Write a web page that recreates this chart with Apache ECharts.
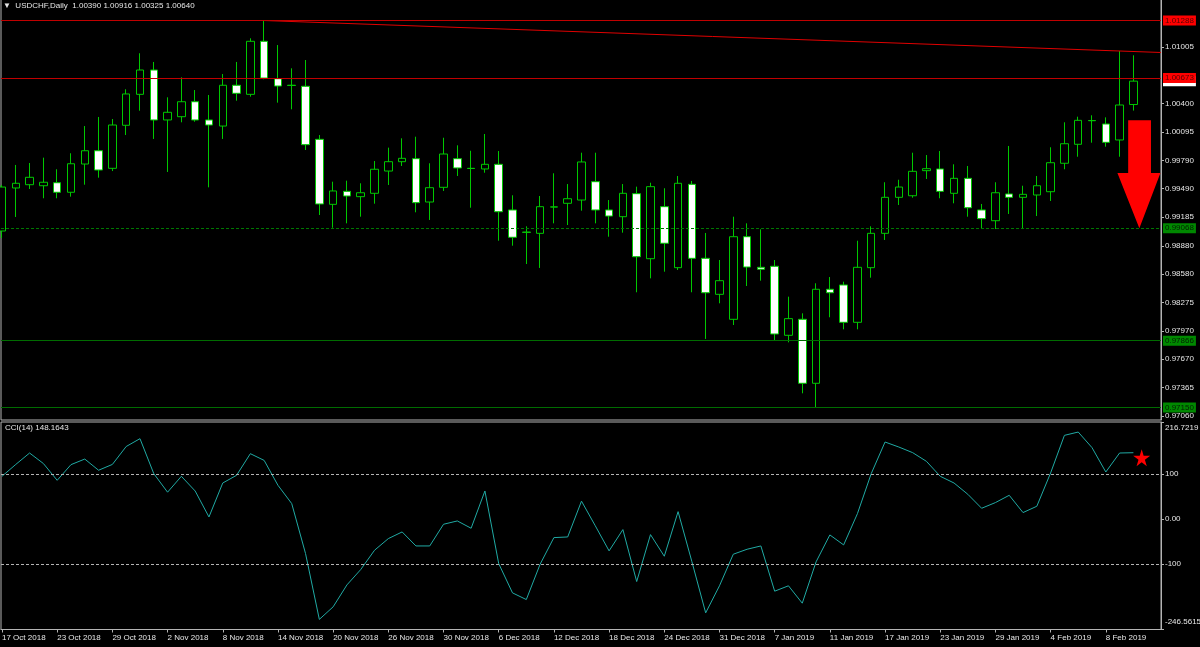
<!DOCTYPE html>
<html><head><meta charset="utf-8">
<script src="https://cdn.jsdelivr.net/npm/echarts@6/dist/echarts.min.js"></script>
<style>html,body{margin:0;padding:0;background:#000;}#c{width:1200px;height:647px;}</style>
</head><body><div id="c"></div>
<script>
const symbolName = 'USDCHF';
const timeframe = 'Daily';
// daily bars 17 Oct 2018 .. 12 Feb 2019 (index 0..82)
const opens = [0.99038,0.99498,0.99533,0.99522,0.99554,0.99452,0.99754,0.99896,0.99708,1.00168,
1.00499,1.00759,1.00225,1.00260,1.00420,1.00225,1.00160,1.00596,1.00499,1.01066,
1.00666,1.00596,1.00585,1.00018,0.99323,0.99462,0.99405,0.99441,0.99679,0.99779,
0.99811,0.99348,0.99505,0.99811,0.99708,0.99701,0.99751,0.99263,0.99026,0.99013,
0.99294,0.99334,0.99369,0.99565,0.99263,0.99191,0.99437,0.98742,0.99298,0.98646,
0.99537,0.98746,0.98361,0.98094,0.98977,0.98650,0.98661,0.97923,0.98094,0.97410,
0.98415,0.98461,0.98062,0.98646,0.99013,0.99398,0.99415,0.99683,0.99701,0.99441,
0.99601,0.99263,0.99148,0.99434,0.99398,0.99423,0.99458,0.99762,0.99965,1.00219,
1.00182,1.00011,1.00390];
const highs = [0.99530,0.99744,0.99765,0.99822,0.99698,0.99869,1.00160,1.00257,1.00235,1.00553,
1.00938,1.00845,1.00467,1.00681,1.00545,1.00492,1.00716,1.00845,1.01098,1.01288,
1.01026,1.00777,1.00866,1.00064,0.99565,0.99576,0.99548,0.99786,0.99929,1.00029,
1.00046,0.99762,1.00035,0.99954,0.99896,1.00075,0.99893,0.99420,0.99088,0.99412,
0.99655,0.99540,0.99875,0.99875,0.99369,0.99540,0.99512,0.99554,0.99495,0.99626,
0.99573,0.99017,0.98728,0.99191,0.99120,0.99056,0.98728,0.98336,0.98158,0.98479,
0.98546,0.98496,0.98934,0.99088,0.99559,0.99586,0.99875,0.99850,0.99893,0.99751,
0.99733,0.99327,0.99559,0.99947,0.99522,0.99626,0.99933,1.00200,1.00260,1.00275,
1.00253,1.00962,1.00916];
const lows = [0.98963,0.99188,0.99487,0.99388,0.99388,0.99405,0.99533,0.99608,0.99679,1.00064,
1.00324,1.00022,0.99669,1.00200,1.00206,0.99505,1.00022,1.00431,1.00474,1.00660,
1.00410,1.00339,0.99904,0.99209,0.99073,0.99120,0.99191,0.99330,0.99530,0.99733,
0.99238,0.99156,0.99466,0.99626,0.99287,0.99661,0.98934,0.98881,0.98685,0.98643,
0.99120,0.99102,0.99255,0.99120,0.98977,0.99020,0.98383,0.98532,0.98603,0.98621,
0.98383,0.97884,0.98265,0.98033,0.98450,0.98507,0.97865,0.97848,0.97303,0.97150,
0.98116,0.97987,0.97987,0.98539,0.98942,0.99316,0.99394,0.99594,0.99388,0.99334,
0.99191,0.99059,0.99059,0.99220,0.99059,0.99198,0.99359,0.99698,0.99832,0.99982,
0.99939,0.99832,1.00325];
const closes = [0.99508,0.99548,0.99612,0.99559,0.99452,0.99757,0.99896,0.99690,1.00171,1.00503,
1.00759,1.00225,1.00307,1.00420,1.00225,1.00171,1.00596,1.00510,1.01066,1.00673,
1.00588,1.00594,0.99961,0.99327,0.99466,0.99412,0.99447,0.99698,0.99779,0.99815,
0.99341,0.99501,0.99861,0.99712,0.99706,0.99751,0.99244,0.98971,0.99024,0.99298,
0.99296,0.99383,0.99776,0.99263,0.99198,0.99441,0.98763,0.99512,0.98907,0.99548,
0.98746,0.98378,0.98507,0.98977,0.98653,0.98629,0.97937,0.98101,0.97410,0.98415,
0.98378,0.98062,0.98650,0.99013,0.99398,0.99508,0.99676,0.99704,0.99462,0.99601,
0.99287,0.99170,0.99447,0.99398,0.99430,0.99522,0.99768,0.99971,1.00221,1.00217,
0.99986,1.00385,1.00640];
const cci = [95.5,122,147.5,124,86.5,121.5,134,109,122,162,
179.5,101.5,60,95.5,62.7,4.7,80.5,97.7,146,131,
75.4,34.5,-77,-224,-196,-147,-112.7,-69.6,-43.6,-28.7,
-60,-60,-11.6,-4.2,-20.5,62.7,-99.4,-164.8,-179.7,-100.9,
-41.4,-39.9,40,-15,-71,-23.5,-139.5,-34.7,-83,16.6,
-95,-209.4,-149,-78.5,-67.4,-60,-161,-149,-187.8,-95.6,
-35.4,-57.7,12.2,101.5,172,160.8,148.3,128.9,95.5,80.5,
55.3,24.1,36.8,53.1,14.5,28.6,103,186.9,194.3,159.5,
105.1,147.5,148.1643];
const dateTickIndex = [0,4,8,12,16,20,24,28,32,36,40,44,48,52,56,60,64,68,72,76,80];
const dateTickLabels = ['17 Oct 2018','23 Oct 2018','29 Oct 2018','2 Nov 2018','8 Nov 2018','14 Nov 2018',
'20 Nov 2018','26 Nov 2018','30 Nov 2018','6 Dec 2018','12 Dec 2018','18 Dec 2018','24 Dec 2018',
'31 Dec 2018','7 Jan 2019','11 Jan 2019','17 Jan 2019','23 Jan 2019','29 Jan 2019','4 Feb 2019','8 Feb 2019'];
const priceTickValues = [1.01005,1.00400,1.00095,0.99790,0.99490,0.99185,0.98880,0.98580,0.98275,0.97970,0.97670,0.97365,0.97060];
const cciTickValues = [216.7219,100,0,-100,-246.5615];
const cciTickLabels = ['216.7219','100','0.00','-100','-246.5615'];
const redLevels = [1.01288,1.00673];
const greenDottedLevels = [0.99068];
const greenSolidLevels = [0.97866,0.97150];
const cciLevels = [100,-100];
const trendFrom = [19,1.01288];
const trendTo = [81,1.00962];
const arrowTip = [82.4,0.99068];
const starPoint = [82.6,137];

const X_MIN = -0.072, X_MAX = 84.0;
const P_MIN = 0.970176, P_MAX = 1.015181;
const n = opens.length;
const FONT = 'Liberation Sans';
const TXT = '#e6e6e6';
const GREEN = '#00c800';
const last = n - 1;
const fmt = v => v.toFixed(5);

const candleData = opens.map((o,i)=>[i,o,closes[i],lows[i],highs[i]]);
const cciData = cci.map((v,i)=>[i,v]);
const slope = (trendTo[1]-trendFrom[1])/(trendTo[0]-trendFrom[0]);
const trendData = [trendFrom, [X_MAX, trendFrom[1] + slope*(X_MAX-trendFrom[0])]];

function levelLine(v, color, type, bg, fg){
  return {yAxis:v, lineStyle:{color:color,type:type,width:1},
    label:{show:true,position:'end',distance:2,formatter:fmt(v),backgroundColor:bg,color:fg,
      fontFamily:FONT,fontSize:8,padding:[1,2,0,2],lineHeight:9}};
}
const markLines = [];
markLines.push({yAxis:closes[last], lineStyle:{color:'rgba(0,0,0,0)',width:0},
  label:{show:true,position:'end',distance:2,formatter:fmt(closes[last]),backgroundColor:'#ffffff',color:'#000000',
    fontFamily:FONT,fontSize:8,padding:[1,2,0,2],lineHeight:9}});
greenDottedLevels.forEach(v=>markLines.push(levelLine(v,'#007800',[3,2],'#008800','#002000')));
greenSolidLevels.forEach(v=>markLines.push(levelLine(v,'#006c00','solid','#008800','#002000')));
redLevels.forEach(v=>markLines.push(levelLine(v,'#c00000','solid','#ff0000','#5a0000')));

const chart = echarts.init(document.getElementById('c'), null, {renderer:'canvas'});
chart.setOption({
  backgroundColor:'#000000',
  animation:false,
  title:[
    {text:'\u25BC  '+symbolName+','+timeframe+'  '+[opens[last],highs[last],lows[last],closes[last]].map(fmt).join(' '),
     left:3, top:2, padding:0, textStyle:{color:TXT,fontFamily:FONT,fontSize:8,fontWeight:'normal'}},
    {text:'CCI(14) '+cci[last].toFixed(4), left:5, top:424, padding:0,
     textStyle:{color:TXT,fontFamily:FONT,fontSize:8,fontWeight:'normal'}}
  ],
  grid:[
    {left:1, top:-1, width:1160, height:421, show:true, borderColor:'#b4b4b4', borderWidth:1, backgroundColor:'transparent', outerBoundsMode:'none', containLabel:false},
    {left:1, top:422, width:1160, height:207.5, show:true, borderColor:'#b4b4b4', borderWidth:1, backgroundColor:'transparent', outerBoundsMode:'none', containLabel:false}
  ],
  xAxis:[
    {type:'value', gridIndex:0, min:X_MIN, max:X_MAX, show:false, splitLine:{show:false}},
    {type:'value', gridIndex:1, min:X_MIN, max:X_MAX, splitLine:{show:false},
     axisLine:{show:true,onZero:false,lineStyle:{color:'#b4b4b4'}},
     axisTick:{show:true,customValues:dateTickIndex,length:3,lineStyle:{color:'#b4b4b4'}},
     axisLabel:{customValues:dateTickIndex, formatter:v=>dateTickLabels[dateTickIndex.indexOf(Math.round(v))]||'',
       color:TXT,fontFamily:FONT,fontSize:8,align:'left',margin:4,showMinLabel:true,showMaxLabel:true,hideOverlap:false}}
  ],
  yAxis:[
    {type:'value', gridIndex:0, position:'right', min:P_MIN, max:P_MAX, splitLine:{show:false},
     axisLine:{show:true,onZero:false,lineStyle:{color:'#b4b4b4'}},
     axisTick:{show:true,customValues:priceTickValues,length:3,lineStyle:{color:'#b4b4b4'}},
     axisLabel:{customValues:priceTickValues, formatter:v=>fmt(v), color:TXT,fontFamily:FONT,fontSize:8,margin:4,hideOverlap:false}},
    {type:'value', gridIndex:1, position:'right', min:cciTickValues[4], max:cciTickValues[0], splitLine:{show:false},
     axisLine:{show:true,onZero:false,lineStyle:{color:'#b4b4b4'}},
     axisTick:{show:true,customValues:cciTickValues,length:3,lineStyle:{color:'#b4b4b4'}},
     axisLabel:{customValues:cciTickValues, color:TXT,fontFamily:FONT,fontSize:8,margin:4,hideOverlap:false,
       formatter:v=>{
         let k=-1; cciTickValues.forEach((t,j)=>{if(Math.abs(t-v)<1e-6)k=j;});
         if(k<0) return '';
         if(k===0) return '{t|'+cciTickLabels[k]+'}';
         if(k===cciTickValues.length-1) return '{b|'+cciTickLabels[k]+'}';
         return cciTickLabels[k];
       },
       rich:{t:{color:TXT,fontFamily:FONT,fontSize:8,padding:[11,0,0,0]},
             b:{color:TXT,fontFamily:FONT,fontSize:8,padding:[0,0,16,0]}}}}
  ],
  series:[
    {type:'line', xAxisIndex:0, yAxisIndex:0, data:trendData, symbol:'none', silent:true,
     lineStyle:{color:'#e00000',width:1}, z:3},
    {type:'candlestick', xAxisIndex:0, yAxisIndex:0, data:candleData,
     encode:{x:0,y:[1,2,3,4]}, barWidth:8, barMaxWidth:8, barMinWidth:8,
     itemStyle:{color:'#000000',color0:'#ffffff',borderColor:GREEN,borderColor0:GREEN,borderWidth:1},
     markLine:{silent:true,precision:5,symbol:['none','none'],data:markLines,animation:false},
     markPoint:{silent:true,animation:false,data:[{coord:arrowTip,
       symbol:'path://M25,0 L78,0 L78,49 L100,49 L51,100 L0,49 L25,49 Z',
       symbolSize:[43,108],symbolOffset:[0,'-50%'],itemStyle:{color:'#ff0000'},label:{show:false}}]}},
    {type:'line', xAxisIndex:1, yAxisIndex:1, data:cciData, symbol:'none', silent:true,
     lineStyle:{color:'#20aaa4',width:1},
     markLine:{silent:true,precision:4,symbol:['none','none'],animation:false,
       data:cciLevels.map(v=>({yAxis:v,lineStyle:{color:'#b4b4b4',type:[3,2],width:1},label:{show:false}}))},
     markPoint:{silent:true,animation:false,data:[{coord:starPoint,
       symbol:'path://M50,0 L61,35 L98,35 L68,57 L79,91 L50,70 L21,91 L32,57 L2,35 L39,35 Z',
       symbolSize:17,itemStyle:{color:'#ff0000'},label:{show:false}}]}}
  ]
});
</script></body></html>
